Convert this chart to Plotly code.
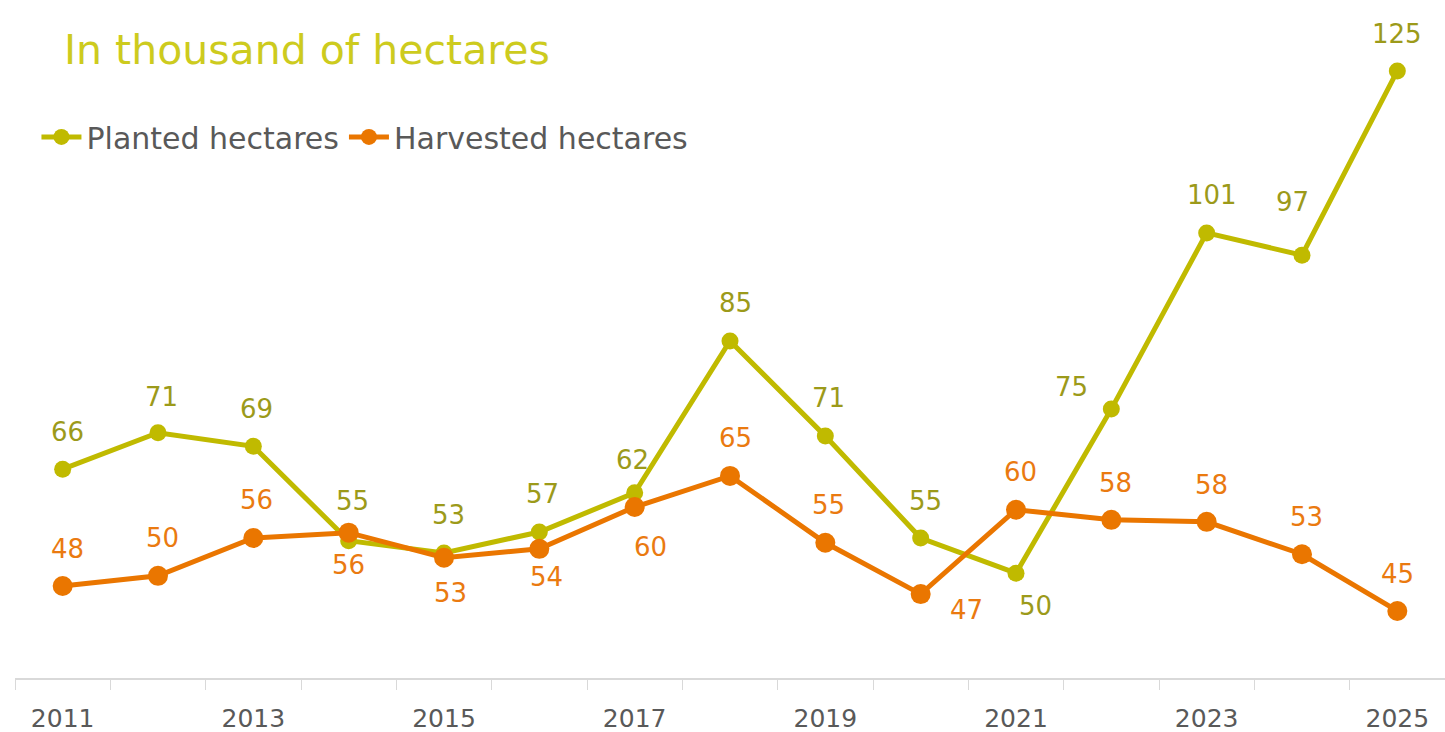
import plotly.graph_objects as go

years = list(range(2011, 2026))
# plotted positions, labels are the rounded figures shown
planted = [66.0, 71.4, 69.4, 55.4, 53.6, 56.7, 62.5, 85.0, 70.9, 55.8, 50.6, 74.9, 101.0, 97.7, 125.0]
planted_labels = ["66", "71", "69", "55", "53", "57", "62", "85", "71", "55", "50", "75", "101", "97", "125"]
harvested = [48.7, 50.2, 55.8, 56.6, 52.9, 54.2, 60.4, 65.0, 55.1, 47.5, 60.0, 58.5, 58.2, 53.4, 45.0]
harvested_labels = ["48", "50", "56", "56", "53", "54", "60", "65", "55", "47", "60", "58", "58", "53", "45"]
tick_years = [2011, 2013, 2015, 2017, 2019, 2021, 2023, 2025]

# label offsets in pixels (dx, dy screen)
planted_off = [(5, -37), (3, -36), (3, -37), (4, -40), (4, -38), (3, -38), (-2, -33), (5, -38),
               (3, -38), (5, -37), (19, 33), (-40, -22), (5, -38), (-10, -53), (0, -37)]
harvested_off = [(5, -37), (4, -38), (3, -38), (0, 32), (6, 35), (7, 28), (16, 40), (5, -38),
                 (3, -38), (46, 16), (4, -38), (4, -37), (5, -37), (4, -37), (0, -37)]

OLIVE = "#C0BA00"
OLIVE_TXT = "#9C9A1A"
ORANGE = "#EA7600"
ORANGE_TXT = "#EA7A10"
FONT = "DejaVu Sans"

fig = go.Figure()
fig.add_trace(go.Scatter(
    x=years, y=planted, mode="lines+markers", name="Planted hectares",
    line=dict(color=OLIVE, width=5), marker=dict(size=17, color=OLIVE),
))
fig.add_trace(go.Scatter(
    x=years, y=harvested, mode="lines+markers", name="Harvested hectares",
    line=dict(color=ORANGE, width=5), marker=dict(size=20, color=ORANGE),
))

for x, y, t, (dx, dy) in zip(years, planted, planted_labels, planted_off):
    fig.add_annotation(x=x, y=y, text=t, showarrow=False, xshift=dx, yshift=-dy,
                       font=dict(size=26, color=OLIVE_TXT, family=FONT))
for x, y, t, (dx, dy) in zip(years, harvested, harvested_labels, harvested_off):
    fig.add_annotation(x=x, y=y, text=t, showarrow=False, xshift=dx, yshift=-dy,
                       font=dict(size=26, color=ORANGE_TXT, family=FONT))

fig.add_annotation(xref="paper", yref="paper", x=0.033, y=0.926, xanchor="left", yanchor="middle",
                   text="In thousand of hectares", showarrow=False,
                   font=dict(size=41, color="#CDCB1E", family=FONT))

fig.update_layout(
    width=1445, height=732,
    margin=dict(l=15, r=0, t=0, b=54, autoexpand=False),
    paper_bgcolor="white", plot_bgcolor="white",
    font=dict(family=FONT, color="#595959"),
    showlegend=True,
    legend=dict(orientation="h", x=0.015, y=0.798, xanchor="left", yanchor="middle",
                font=dict(size=30, color="#595959"), itemwidth=40, tracegroupgap=0,
                bgcolor="rgba(0,0,0,0)"),
    xaxis=dict(
        range=[2010.5, 2025.5], tickvals=tick_years, ticks="", showgrid=False, zeroline=False,
        showline=True, linecolor="#D9D9D9", linewidth=2, automargin=False,
        tickfont=dict(size=25, color="#595959"), ticklabelstandoff=17,
        minor=dict(tick0=2010.5, dtick=1, ticks="outside", ticklen=10, tickcolor="#D9D9D9",
                   tickwidth=1, showgrid=False),
    ),
    yaxis=dict(range=[35.07, 135.5], visible=False, showgrid=False, zeroline=False,
               automargin=False),
)

# the page adds an 8px body margin; drop it so the figure sits at the corner
fig.write_html("out.html", config={"displayModeBar": False},
               post_script="document.body.style.margin='0';")
